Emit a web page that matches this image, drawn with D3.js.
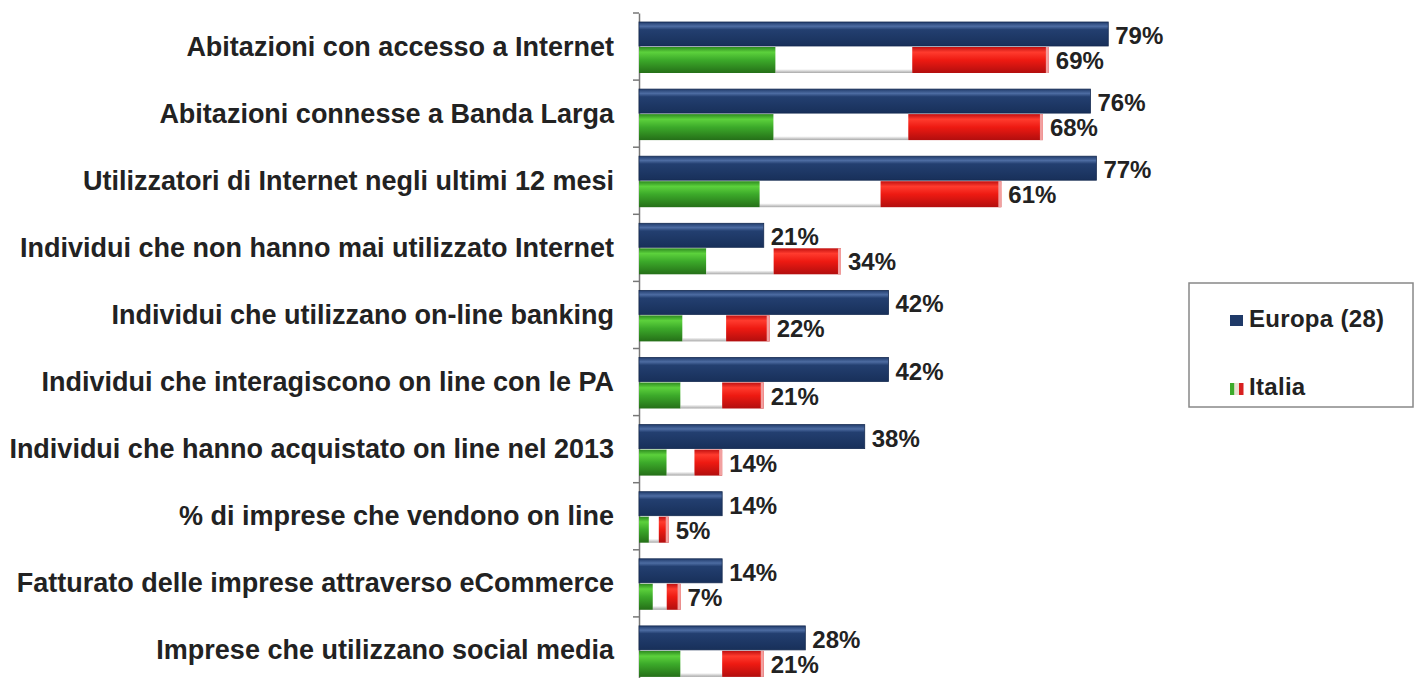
<!DOCTYPE html>
<html>
<head>
<meta charset="utf-8">
<script src="https://cdn.jsdelivr.net/npm/d3@7"></script>
<style>
  body { margin: 0; background: #fff; }
  svg text { font-family: "Liberation Sans", Arial, sans-serif; font-weight: bold; fill: #222; }
</style>
</head>
<body>
<svg id="chart" width="1416" height="678"></svg>
<script>
const categories = [
  "Abitazioni con accesso a Internet",
  "Abitazioni connesse a Banda Larga",
  "Utilizzatori di Internet negli ultimi 12 mesi",
  "Individui che non hanno mai utilizzato Internet",
  "Individui che utilizzano on-line banking",
  "Individui che interagiscono on line con le PA",
  "Individui che hanno acquistato on line nel 2013",
  "% di imprese che vendono on line",
  "Fatturato delle imprese attraverso eCommerce",
  "Imprese che utilizzano social media"
];
const europa = [79, 76, 77, 21, 42, 42, 38, 14, 14, 28];
const italia = [69, 68, 61, 34, 22, 21, 14, 5, 7, 21];
const seriesNames = ["Europa (28)", "Italia"];

const svg = d3.select("#chart");
const defs = svg.append("defs");

// gradients for the glossy bar look
function grad(id, stops) {
  const g = defs.append("linearGradient").attr("id", id)
    .attr("x1", 0).attr("y1", 0).attr("x2", 0).attr("y2", 1);
  stops.forEach(s => g.append("stop").attr("offset", s[0]).attr("stop-color", s[1]));
}
grad("gBlue", [[0, "#213c6c"], [0.18, "#4d6ca2"], [0.32, "#233f70"], [1, "#18305a"]]);
grad("gGreen", [[0, "#2d8a1f"], [0.2, "#5cd13c"], [0.5, "#3caa2a"], [1, "#256f18"]]);
grad("gRed", [[0, "#c01010"], [0.2, "#ff3b2e"], [0.5, "#ee1a12"], [1, "#b20e0e"]]);
grad("gWhite", [[0, "#ffffff"], [0.85, "#ffffff"], [1, "#a8a8a8"]]);

const x0 = 639;
const x = d3.scaleLinear().domain([0, 100]).range([x0, x0 + 594]);
const y = d3.scaleBand().domain(categories).range([13, 13 + 67.1 * categories.length]);

// axis line + ticks
const axis = svg.append("g").attr("transform", `translate(${x0},0)`)
  .call(d3.axisLeft(y).tickSize(0).tickFormat(""));
axis.select(".domain").attr("stroke", "#777").attr("stroke-width", 1.5);
svg.append("g").selectAll("line")
  .data(categories.map(c => y(c)))
  .join("line")
  .attr("x1", x0 - 6).attr("x2", x0)
  .attr("y1", d => d).attr("y2", d => d)
  .attr("stroke", "#777").attr("stroke-width", 1.5);

// category labels
svg.append("g").selectAll("text")
  .data(categories)
  .join("text")
  .attr("x", x0 - 25)
  .attr("y", d => y(d) + y.bandwidth() / 2 + 9)
  .attr("text-anchor", "end")
  .attr("font-size", 27)
  .text(d => d);

// Europa bars
const rows = svg.append("g").selectAll("g")
  .data(categories.map((c, i) => ({ c, eu: europa[i], it: italia[i] })))
  .join("g")
  .attr("transform", d => `translate(0,${y(d.c)})`);

rows.append("rect")
  .attr("x", x(0)).attr("y", 9)
  .attr("width", d => x(d.eu) - x(0)).attr("height", 24)
  .attr("fill", "url(#gBlue)")
  .attr("stroke", "#152a50").attr("stroke-width", 0.8);

// Italia bars: tricolore in thirds
const thirds = ["gGreen", "gWhite", "gRed"];
thirds.forEach((g, k) => {
  rows.append("rect")
    .attr("x", d => x(0) + (x(d.it) - x(0)) * k / 3)
    .attr("y", 34)
    .attr("width", d => (x(d.it) - x(0)) / 3)
    .attr("height", 26)
    .attr("fill", `url(#${g})`);
});
rows.append("rect")
  .attr("x", d => x(d.it) - 3).attr("y", 34)
  .attr("width", 3).attr("height", 26)
  .attr("fill", "#f2a0a0");

// value labels
rows.append("text")
  .attr("x", d => x(d.eu) + 7).attr("y", 31)
  .attr("font-size", 24)
  .text(d => d.eu + "%");
rows.append("text")
  .attr("x", d => x(d.it) + 7).attr("y", 56)
  .attr("font-size", 24)
  .text(d => d.it + "%");

// legend
const lg = svg.append("g");
lg.append("rect")
  .attr("x", 1189).attr("y", 283).attr("width", 224).attr("height", 124)
  .attr("fill", "#fff").attr("stroke", "#888").attr("stroke-width", 1.5);
lg.append("rect").attr("x", 1230).attr("y", 315).attr("width", 13).attr("height", 11).attr("fill", "#1f3a68");
lg.append("text").attr("x", 1249).attr("y", 327).attr("font-size", 24).attr("letter-spacing", 0.3).text(seriesNames[0]);
["#3caa2a", "#e8e0d0", "#d82020"].forEach((c, k) => {
  lg.append("rect").attr("x", 1230 + k * 4.5).attr("y", 383).attr("width", 4.5).attr("height", 12).attr("fill", c);
});
lg.append("text").attr("x", 1249).attr("y", 395).attr("font-size", 24).attr("letter-spacing", 0.3).text(seriesNames[1]);
</script>
</body>
</html>
